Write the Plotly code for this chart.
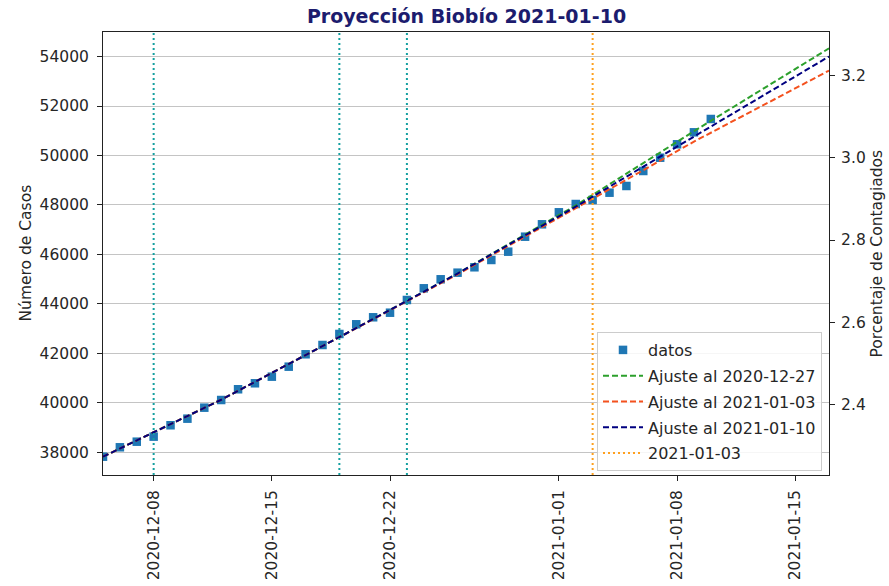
import plotly.graph_objects as go
import pandas as pd

# ---- data ----
fechas = pd.date_range("2020-12-05", "2021-01-10").strftime("%Y-%m-%d").tolist()
datos = [37830, 38210, 38436, 38640, 39100, 39366, 39810, 40120, 40554, 40796,
         41063, 41467, 41968, 42343, 42788, 43180, 43463, 43648, 44162, 44634,
         44998, 45265, 45483, 45778, 46113, 46719, 47220, 47705, 48040, 48202,
         48497, 48768, 49374, 49911, 50453, 50937, 51475]

fechas_ajuste = ["2020-12-05", "2020-12-12", "2020-12-19", "2020-12-26",
                 "2021-01-02", "2021-01-09", "2021-01-17"]
ajuste_1227 = [37830, 40130, 42660, 45230, 47980, 50980, 54330]
ajuste_0103 = [37830, 40130, 42660, 45200, 47870, 50560, 53430]
ajuste_0110 = [37830, 40130, 42660, 45230, 47930, 50750, 54000]

lineas_cian = ["2020-12-08", "2020-12-19", "2020-12-23"]
linea_naranja = "2021-01-03"

POBLACION = 1663696
rango_casos = [37090, 54990]
rango_x = ["2020-12-05", "2021-01-17"]
ticks_x = ["2020-12-08", "2020-12-15", "2020-12-22", "2021-01-01", "2021-01-08", "2021-01-15"]
ticks_y = [38000, 40000, 42000, 44000, 46000, 48000, 50000, 52000, 54000]
ticks_y2 = [2.4, 2.6, 2.8, 3.0, 3.2]

FONT = "DejaVu Sans"
TXT = "#262626"

W, H = 889, 586
L, T, PW, PH = 103, 32, 726, 443

fig = go.Figure()
fig.add_trace(go.Scatter(x=fechas, y=datos, mode="markers", name="datos",
                         legendgroup="a",
                         marker=dict(symbol="square", size=8.5, color="#1f77b4")))
fig.add_trace(go.Scatter(x=fechas_ajuste, y=ajuste_1227, mode="lines",
                         name="Ajuste al 2020-12-27", legendgroup="b",
                         line=dict(color="#2ca02c", width=2, dash="6px,3px")))
fig.add_trace(go.Scatter(x=fechas_ajuste, y=ajuste_0103, mode="lines",
                         name="Ajuste al 2021-01-03", legendgroup="c",
                         line=dict(color="#f4511e", width=2, dash="6px,3px")))
fig.add_trace(go.Scatter(x=fechas_ajuste, y=ajuste_0110, mode="lines",
                         name="Ajuste al 2021-01-10", legendgroup="d",
                         line=dict(color="#000080", width=2, dash="6px,3px")))
# invisible trace on the percentage axis
fig.add_trace(go.Scatter(x=fechas, y=[v / POBLACION * 100 for v in datos],
                         mode="markers", yaxis="y2", showlegend=False,
                         hoverinfo="skip", marker=dict(opacity=0)))

for f in lineas_cian:
    fig.add_shape(type="line", xref="x", yref="paper", x0=f, x1=f, y0=0, y1=1,
                  line=dict(color="#14a0a0", width=2, dash="2px,3px"))
fig.add_shape(type="line", xref="x", yref="paper", x0=linea_naranja, x1=linea_naranja,
              y0=0, y1=1, line=dict(color="#ffa01e", width=2, dash="2px,3px"),
              showlegend=True, name=linea_naranja, legendgroup="e")

fig.add_annotation(text="Número de Casos", xref="paper", yref="paper",
                   x=(25 - L) / PW, y=0.5, xanchor="center", yanchor="middle",
                   textangle=-90, showarrow=False, font=dict(size=15.5, color=TXT))
fig.add_annotation(text="Porcentaje de Contagiados", xref="paper", yref="paper",
                   x=(876 - L) / PW, y=0.5, xanchor="center", yanchor="middle",
                   textangle=-90, showarrow=False, font=dict(size=15.5, color=TXT))

fig.update_layout(
    width=W, height=H,
    margin=dict(l=L, r=W - L - PW, t=T, b=H - T - PH, autoexpand=False),
    paper_bgcolor="white", plot_bgcolor="white",
    font=dict(family=FONT, size=15, color=TXT),
    title=dict(text="<b>Proyección Biobío 2021-01-10</b>", x=466.5 / W, xanchor="center",
               y=1 - 16.5 / H, yanchor="middle",
               font=dict(family=FONT, size=19, color="#1c1c6e")),
    xaxis=dict(type="date", range=rango_x, tickvals=ticks_x, tickformat="%Y-%m-%d",
               tickangle=-90, showgrid=False, showline=True, linecolor="#222",
               linewidth=1, mirror=True, ticks="outside", ticklen=5, tickcolor="#222",
               ticklabelstandoff=3,
               tickfont=dict(size=15.5, color=TXT), zeroline=False, automargin=False),
    yaxis=dict(range=rango_casos, tickvals=ticks_y, tickformat="d", showgrid=True,
               gridcolor="#c4c4c4", gridwidth=1, showline=True, linecolor="#222",
               linewidth=1, mirror=True, ticks="outside", ticklen=5, tickcolor="#222",
               ticklabelstandoff=5,
               zeroline=False, tickfont=dict(size=15.5, color=TXT), automargin=False),
    yaxis2=dict(overlaying="y", side="right",
                range=[rango_casos[0] / POBLACION * 100, rango_casos[1] / POBLACION * 100],
                tickvals=ticks_y2, tickformat=".1f", showgrid=False, zeroline=False,
                ticks="outside", ticklen=5, tickcolor="#222", automargin=False,
                ticklabelstandoff=3,
                tickfont=dict(size=15.5, color=TXT)),
    legend=dict(x=(822 - L) / PW, xanchor="right", y=(475 - 471) / PH, yanchor="bottom",
                bgcolor="rgba(255,255,255,0.85)", bordercolor="#cccccc", borderwidth=1,
                font=dict(size=16, color=TXT), tracegroupgap=2, itemwidth=40),
    showlegend=True,
)

# remove the browser's default 8px body margin so the figure fills the window
fig.write_html("out.html", config={"displayModeBar": False},
               post_script="document.body.style.margin='0';document.body.style.overflow='hidden';")
